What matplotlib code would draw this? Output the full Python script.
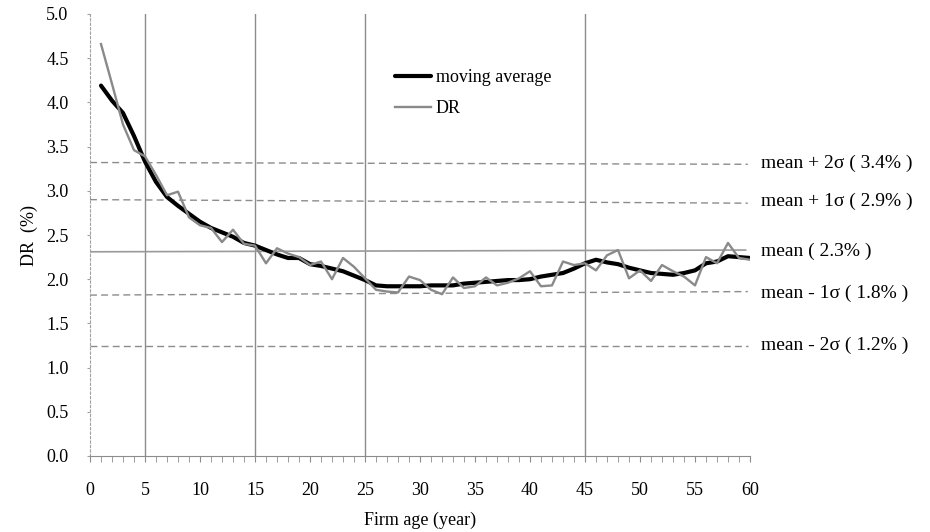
import matplotlib
matplotlib.use('Agg')
import matplotlib.pyplot as plt
from matplotlib.ticker import MultipleLocator

plt.rcParams['font.family'] = ['Liberation Serif', 'DejaVu Serif']
plt.rcParams['font.size'] = 13

# firm age (years)
age = list(range(1, 61))

# default rate per age (%)
dr = [4.66, 4.21, 3.75, 3.46, 3.39, 3.18, 2.95, 2.99, 2.70, 2.61,
      2.58, 2.42, 2.56, 2.40, 2.38, 2.18, 2.35, 2.29, 2.25, 2.16,
      2.20, 2.00, 2.24, 2.14, 2.01, 1.88, 1.86, 1.85, 2.03, 1.99,
      1.88, 1.83, 2.02, 1.90, 1.92, 2.02, 1.93, 1.96, 2.01, 2.09,
      1.92, 1.93, 2.20, 2.16, 2.18, 2.10, 2.27, 2.33, 2.01, 2.10,
      1.98, 2.16, 2.09, 2.03, 1.93, 2.25, 2.18, 2.41, 2.24, 2.22]

# moving average of DR (%)
ma = [4.19, 4.02, 3.88, 3.62, 3.33, 3.10, 2.93, 2.83, 2.74, 2.65,
      2.58, 2.53, 2.48, 2.41, 2.38, 2.33, 2.28, 2.24, 2.24, 2.17,
      2.15, 2.12, 2.09, 2.04, 1.99, 1.93, 1.92, 1.92, 1.92, 1.92,
      1.93, 1.93, 1.93, 1.95, 1.96, 1.97, 1.98, 1.99, 1.99, 2.00,
      2.03, 2.05, 2.07, 2.12, 2.18, 2.22, 2.19, 2.17, 2.13, 2.10,
      2.07, 2.06, 2.05, 2.07, 2.10, 2.18, 2.20, 2.26, 2.25, 2.24]

# reference levels: left / right end values, label
band_names = ['mean + 2\u03c3 ( 3.4% )', 'mean + 1\u03c3 ( 2.9% )', 'mean ( 2.3% )',
              'mean - 1\u03c3 ( 1.8% )', 'mean - 2\u03c3 ( 1.2% )']
band_left = [3.32, 2.90, 2.31, 1.82, 1.25]
band_right = [3.30, 2.86, 2.33, 1.86, 1.25]
band_solid = [False, False, True, False, False]

# age-group boundaries
splits = [5, 15, 25, 45]

fig = plt.figure(figsize=(9.3, 5.32), dpi=100)
ax = fig.add_axes([90 / 930, 1 - 456 / 532, 660 / 930, 442 / 532])

for x in splits:
    ax.plot([x, x], [0, 5], color='#8c8c8c', lw=1.0, zorder=1)

for name, yl, yr, solid in zip(band_names, band_left, band_right, band_solid):
    if solid:
        ax.plot([0, 59.6], [yl, yr], color='#9a9a9a', lw=1.2, zorder=1)
    else:
        ax.plot([0, 59.8], [yl, yr], color='#8c8c8c', lw=1.0, ls=(0, (5, 3)), zorder=1)
    ax.text(61.0, (yl + yr) / 2, name, va='center', ha='left', fontsize=14, clip_on=False)

ax.plot(age, ma, color='black', lw=3.0, label='moving average', zorder=3, solid_capstyle='round')
ax.plot(age, dr, color='#8a8a8a', lw=1.7, label='DR', zorder=4)

ax.set_xlim(0, 60)
ax.set_ylim(0, 5)
ax.xaxis.set_major_locator(MultipleLocator(5))
ax.xaxis.set_minor_locator(MultipleLocator(1))
ax.yaxis.set_major_locator(MultipleLocator(0.5))
ax.yaxis.set_major_formatter(plt.FuncFormatter(lambda v, p: '%.1f' % v))

for s in ['top', 'right']:
    ax.spines[s].set_visible(False)
ax.spines['bottom'].set_color('#8c8c8c')
ax.spines['left'].set_color('#a0a0a0')
ax.spines['left'].set_linestyle((0, (2, 2)))
ax.tick_params(axis='x', which='both', direction='out', length=4, color='#8c8c8c', pad=15)
ax.tick_params(axis='y', direction='out', length=2.4, color='#a0a0a0', pad=13)

ax.set_xlabel('Firm age (year)', fontsize=13, labelpad=9)
ax.set_ylabel('DR  (%)', fontsize=13, labelpad=6)

ax.legend(loc='upper left', bbox_to_anchor=(395 / 930, 1 - 69 / 532),
          bbox_transform=fig.transFigure, frameon=False, handlelength=2.0,
          handletextpad=0.25, borderpad=0, borderaxespad=0, labelspacing=0.8, fontsize=13)

fig.savefig('out.png', dpi=100)
